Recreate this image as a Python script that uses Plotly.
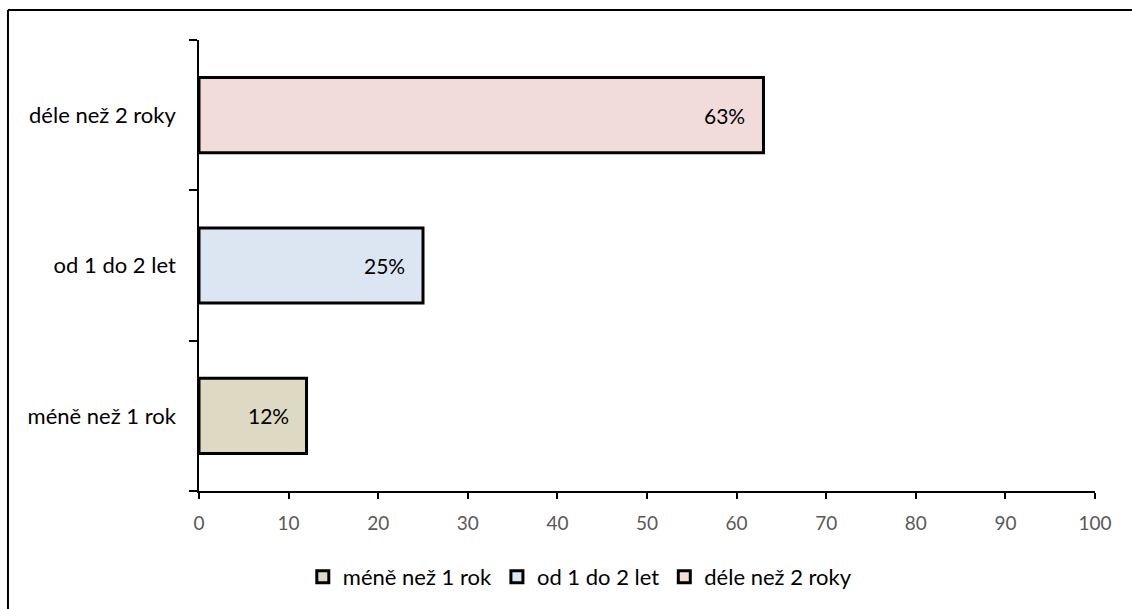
import plotly.graph_objects as go

categories = ["méně než 1 rok", "od 1 do 2 let", "déle než 2 roky"]
values = [12, 25, 63]
colors = ["#DDD9C3", "#DCE6F2", "#F2DCDB"]
x_ticks = [0, 10, 20, 30, 40, 50, 60, 70, 80, 90, 100]

FONT = "Lato, 'Open Sans', sans-serif"

fig = go.Figure()
for cat, val, col in zip(categories, values, colors):
    fig.add_trace(go.Bar(
        y=[cat], x=[val], name=cat, orientation="h",
        width=0.5,
        marker=dict(color=col, line=dict(color="black", width=3)),
        hoverinfo="skip",
    ))
    # value label inside the bar, near its end
    fig.add_annotation(
        x=val, y=cat, text=f"{val}%", showarrow=False,
        xanchor="right", xshift=-16,
        font=dict(family=FONT, size=21, color="black"),
    )

# outer frame lines
fig.add_shape(type="line", xref="paper", yref="paper",
              x0=-0.2132, x1=1.2, y0=1.0664, y1=1.0664,
              line=dict(color="black", width=2))
fig.add_shape(type="line", xref="paper", yref="paper",
              x0=-0.2132, x1=-0.2132, y0=1.0664, y1=-0.4,
              line=dict(color="black", width=2))

fig.update_layout(
    width=1132, height=609,
    margin=dict(l=199, r=37, t=40, b=117),
    paper_bgcolor="white", plot_bgcolor="white",
    barmode="overlay",
    showlegend=True,
    legend=dict(
        orientation="h", x=0.425, xanchor="center", y=-0.188, yanchor="middle",
        font=dict(family=FONT, size=22, color="black"),
        itemwidth=30,
        itemclick=False, itemdoubleclick=False,
    ),
    font=dict(family=FONT),
)
fig.update_xaxes(
    range=[0, 100], tickvals=x_ticks, ticktext=[str(t) for t in x_ticks],
    showgrid=False, zeroline=False,
    showline=True, linecolor="black", linewidth=1.5,
    ticks="outside", ticklen=6, tickcolor="black", tickwidth=1.5,
    tickfont=dict(family=FONT, size=19, color="#595959"),
    ticklabelstandoff=8,
)
fig.update_yaxes(
    categoryorder="array", categoryarray=categories,
    range=[-0.5, 2.5],
    showgrid=False, zeroline=False,
    showline=True, linecolor="black", linewidth=1.5,
    ticks="outside", ticklen=8, tickcolor="black", tickwidth=1.5,
    tickson="boundaries",
    tickfont=dict(family=FONT, size=22, color="black"),
    ticklabelstandoff=17,
)

fig.write_html("out.html")
